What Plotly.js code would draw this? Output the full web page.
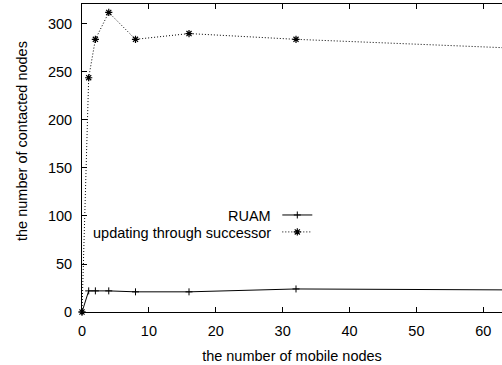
<!DOCTYPE html>
<html>
<head>
<meta charset="utf-8">
<script src="https://cdn.plot.ly/plotly-3.0.1.min.js"></script>
<style>html,body{margin:0;padding:0;background:#fff;}#chart{width:502px;height:365px;}</style>
</head>
<body>
<div id="chart"></div>
<script>
const mobileNodes = [0, 1, 2, 4, 8, 16, 32, 64];
const ruam = [0, 22, 22, 22, 21, 21, 24, 23];
const successor = [0, 244, 284, 312, 284, 290, 284, 275];
const seriesNames = ['RUAM', 'updating through successor'];
const xTicks = [0, 10, 20, 30, 40, 50, 60];
const yTicks = [0, 50, 100, 150, 200, 250, 300];
const xTitle = 'the number of mobile nodes';
const yTitle = 'the number of contacted nodes';

const font = {family: 'Liberation Sans, Arial, sans-serif', size: 14.5, color: '#000'};
const legFont = {family: font.family, size: 8};

const traces = [
  {x: mobileNodes, y: ruam, name: '', legend: 'legend', type: 'scatter', mode: 'lines+markers', cliponaxis: false,
   line: {color: '#000', width: 1}, marker: {symbol: 'cross-thin-open', size: 5, color: '#000', line: {width: 1, color: '#000'}}},
  {x: mobileNodes, y: successor, name: '', legend: 'legend2', type: 'scatter', mode: 'lines+markers', cliponaxis: false,
   line: {color: '#000', width: 1, dash: '1px,2px'}, marker: {symbol: 'asterisk-open', size: 6, color: '#000', line: {width: 1.2, color: '#000'}}}
];

const layout = {
  width: 502, height: 365,
  margin: {l: 82, r: 0, t: 4, b: 53},
  paper_bgcolor: '#fff', plot_bgcolor: '#fff',
  font: font,
  showlegend: true,
  legend: {x: 0.465, y: 0.315, xanchor: 'left', yanchor: 'middle', bgcolor: 'rgba(0,0,0,0)', font: legFont, itemwidth: 30},
  legend2: {x: 0.465, y: 0.260, xanchor: 'left', yanchor: 'middle', bgcolor: 'rgba(0,0,0,0)', font: legFont, itemwidth: 30},
  xaxis: {range: [0, 62.8], tickvals: xTicks, ticktext: xTicks.map(String), ticks: 'inside', ticklen: 5, tickcolor: '#000',
          showline: true, linecolor: '#000', linewidth: 1, mirror: 'ticks', showgrid: false, zeroline: false,
          ticklabelstandoff: 6, tickfont: font, title: {text: xTitle, font: font, standoff: 12}},
  yaxis: {range: [0, 320.8], tickvals: yTicks, ticktext: yTicks.map(String), ticks: 'inside', ticklen: 5, tickcolor: '#000',
          showline: true, linecolor: '#000', linewidth: 1, mirror: false, showgrid: false, zeroline: false,
          ticklabelstandoff: 6, tickfont: font},
  annotations: [
    {xref: 'paper', yref: 'paper', x: -0.143, y: 0.555, xanchor: 'center', yanchor: 'middle', textangle: -90, text: yTitle, showarrow: false, font: font},
    {xref: 'paper', yref: 'paper', x: 0.455, y: 0.312, xanchor: 'right', yanchor: 'middle', text: seriesNames[0], showarrow: false, font: font},
    {xref: 'paper', yref: 'paper', x: 0.455, y: 0.257, xanchor: 'right', yanchor: 'middle', text: seriesNames[1], showarrow: false, font: font}
  ]
};

Plotly.newPlot('chart', traces, layout, {staticPlot: true, displayModeBar: false});
</script>
</body>
</html>
